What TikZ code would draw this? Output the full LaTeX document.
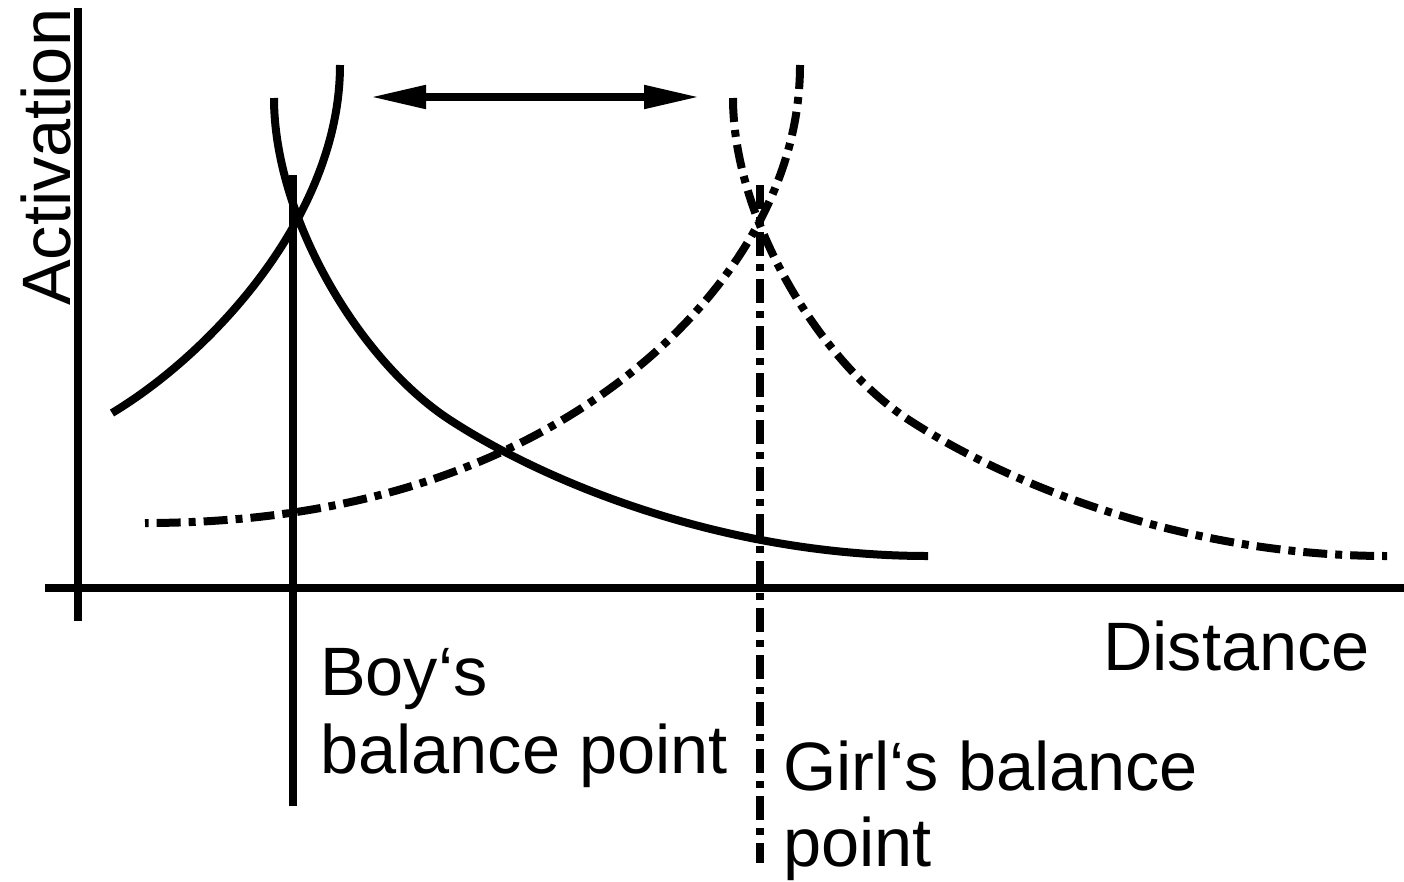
\documentclass[tikz,border=0pt]{standalone}
\usepackage{fontspec}
\setmainfont{Liberation Sans}
\usetikzlibrary{arrows.meta}
\tikzset{
  thick line/.style={line width=8pt, line cap=butt},
  dashdot line/.style={thick line, dash pattern=on 24pt off 8pt on 7pt off 8pt},
  label text/.style={inner sep=0pt, font=\fontsize{68.5}{80}\selectfont, align=left},
}
\begin{document}
\begin{tikzpicture}[x=1pt, y=-1pt]
\useasboundingbox (0,0) rectangle (1404,881);
% axes
\coordinate (yaxtop) at (78,8);
\coordinate (yaxbot) at (78,621);
\coordinate (xaxl) at (45,588);
\coordinate (xaxr) at (1404,588);
\draw[thick line] (yaxbot) -- (yaxtop);
\draw[thick line] (xaxl) -- (xaxr);
% balance lines
\coordinate (boytop) at (293,175);
\coordinate (boybot) at (293,806);
\draw[thick line] (boytop) -- (boybot);
\coordinate (girltop) at (760,185);
\coordinate (girlbot) at (760,863);
\draw[dashdot line] (girltop) -- (girlbot);
% boy curves
\draw[thick line] (112,413) .. controls (212,353) and (340,215) .. (340,65);
\draw[thick line] (274,98) .. controls (274,218) and (360,361.5) .. (450,420)
                  .. controls (550,485) and (728,556) .. (928,556);
% girl curves
\draw[dashdot line] (800,65) .. controls (800,195) and (718,301.4) .. (638,367)
                  .. controls (548,440.8) and (395,523) .. (145,523);
\draw[dashdot line] (733,98) .. controls (733,218) and (819,361.5) .. (909,420)
                  .. controls (1009,485) and (1187,556) .. (1387,556);
% double arrow
\coordinate (arl) at (370,97);
\coordinate (arr) at (700,97);
\draw[thick line, {Triangle[length=56pt,width=22pt]}-{Triangle[length=56pt,width=22pt]}] (arl) -- (arr);
% labels
\node[label text, rotate=90, anchor=base west] (act) at (70,306) {Activation};
\node[label text, anchor=base west] (dist) at (1103,670) {Distance};
\node[label text, anchor=base west] (boy) at (320,695) {Boy‘s};
\node[label text, anchor=base west] (boy2) at (320,773) {balance point};
\node[label text, anchor=base west] (girl) at (783,790) {Girl‘s balance};
\node[label text, anchor=base west] (girl2) at (783,866) {point};
\end{tikzpicture}
\end{document}
